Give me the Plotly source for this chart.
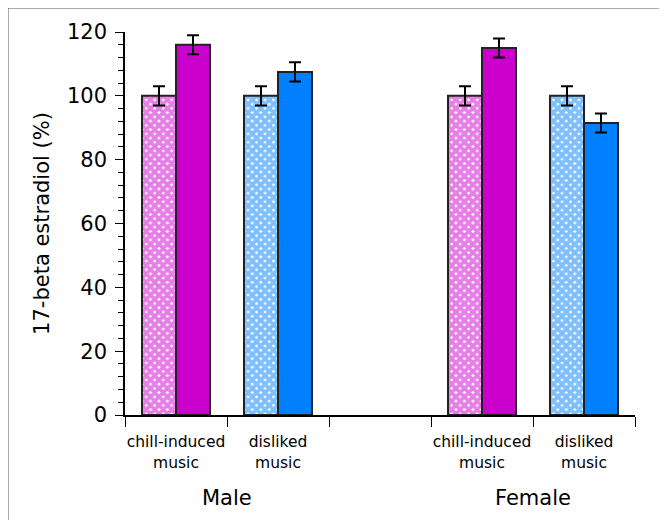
import plotly.graph_objects as go

slots = ["M-chill", "M-disliked", "gap", "F-chill", "F-disliked"]
slot_labels = ["chill-induced<br>music", "disliked<br>music", "", "chill-induced<br>music", "disliked<br>music"]
groups = ["Male", "Female"]
group_pos = [0.5, 3.5]

control = [100, 100, None, 100, 100]
control_err = [3, 3, 0, 3, 3]
treated = [116, 107.5, None, 115, 91.5]
treated_err = [3, 3, 0, 3, 3]

magenta = "#CC00CC"
blue = "#0080FF"
colors = [magenta, blue, magenta, magenta, blue]

font = "DejaVu Sans"

fig = go.Figure()
fig.add_trace(go.Bar(
    x=slots, y=control,
    marker=dict(color="white", line=dict(color="#222222", width=2),
                pattern=dict(shape="x", fgcolor=colors, bgcolor="white", size=6, solidity=0.85)),
    error_y=dict(type="data", array=control_err, color="black", thickness=2, width=6),
    showlegend=False,
))
fig.add_trace(go.Bar(
    x=slots, y=treated,
    marker=dict(color=colors, line=dict(color="#222222", width=2)),
    error_y=dict(type="data", array=treated_err, color="black", thickness=2, width=6),
    showlegend=False,
))

for g, p in zip(groups, group_pos):
    fig.add_annotation(x=p, y=-0.216, xref="x", yref="paper", text=g, showarrow=False,
                       font=dict(family=font, size=21, color="black"), yanchor="middle")

fig.add_shape(type="rect", xref="paper", yref="paper", x0=-0.2294, x1=1.0588, y0=-0.4, y1=1.0627,
              line=dict(color="#555555", width=1))

fig.update_layout(
    width=667, height=520,
    margin=dict(l=117, r=40, t=24, b=113, autoexpand=False),
    barmode="group", bargap=1/3, bargroupgap=0,
    plot_bgcolor="white", paper_bgcolor="white",
    font=dict(family=font, color="black"),
    xaxis=dict(
        type="category", categoryorder="array", categoryarray=slots,
        tickvals=slots, ticktext=slot_labels, range=[-0.5, 4.5], tickangle=0,
        tickson="boundaries", ticks="outside", ticklen=10, tickwidth=1, tickcolor="black",
        showline=True, linecolor="black", linewidth=1.5, showgrid=False,
        tickfont=dict(family=font, size=15.5, color="black"), ticklabelstandoff=12,
    ),
    yaxis=dict(
        range=[0, 120], tickvals=[0, 20, 40, 60, 80, 100, 120],
        ticks="outside", ticklen=8, tickwidth=1, tickcolor="black",
        minor=dict(dtick=4, ticks="outside", ticklen=5, tickcolor="black", tickwidth=1),
        showline=True, linecolor="black", linewidth=1.5, showgrid=False, zeroline=False,
        tickfont=dict(family=font, size=21, color="black"), ticklabelstandoff=4,
        title=dict(text="17-beta estradiol (%)", font=dict(family=font, size=21, color="black"), standoff=12),
    ),
)

fig.write_html("out.html")
